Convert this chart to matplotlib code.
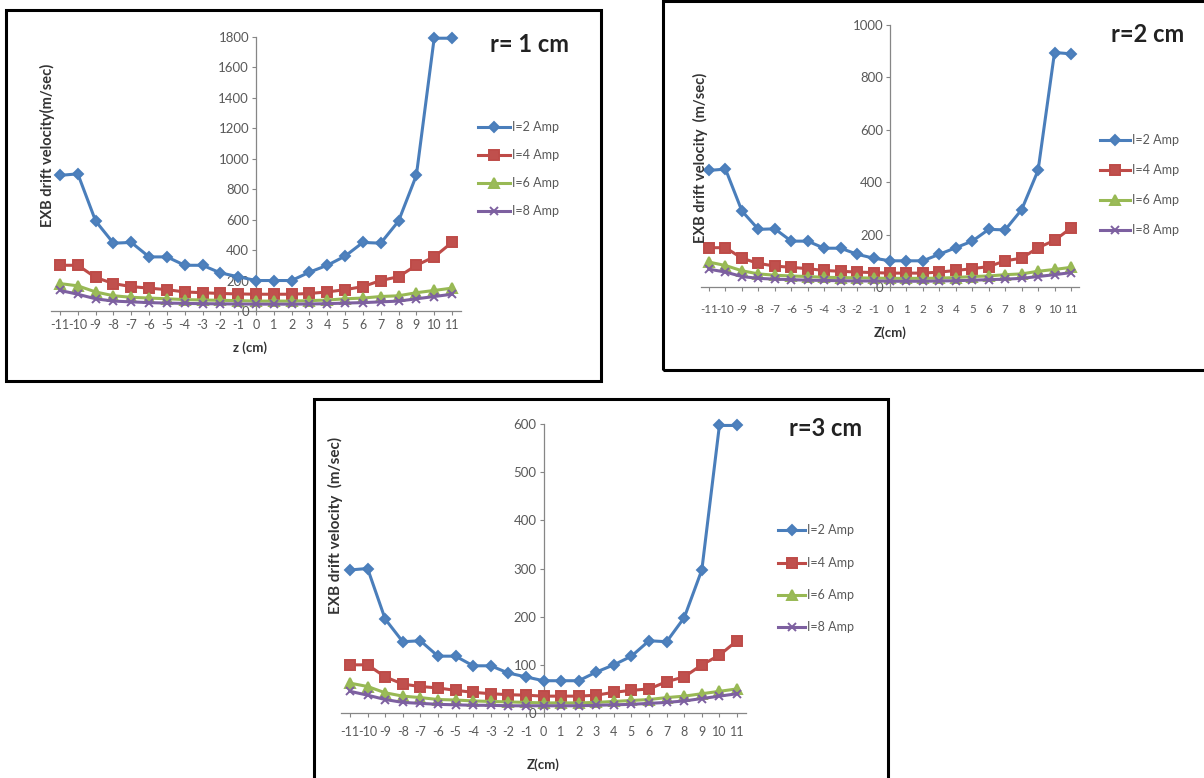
import matplotlib.pyplot as plt
from matplotlib.patches import Rectangle
from matplotlib.lines import Line2D

W, H = 1204, 778

plt.rcParams['font.family'] = ['Lato', 'DejaVu Sans']

z = list(range(-11, 12))
series_names = ["I=2 Amp", "I=4 Amp", "I=6 Amp", "I=8 Amp"]

# r = 1 cm
r1_i2 = [890, 900, 590, 445, 450, 355, 355, 300, 300, 250, 225, 200,
         200, 200, 255, 300, 360, 450, 445, 590, 890, 1790, 1790]
r1_i4 = [300, 300, 220, 180, 160, 150, 140, 125, 120, 115, 112, 110,
         110, 110, 115, 125, 140, 160, 200, 225, 300, 355, 450]
r1_i6 = [180, 165, 125, 100, 90, 85, 80, 75, 72, 70, 68, 65,
         65, 65, 68, 72, 80, 85, 95, 100, 120, 135, 150]
r1_i8 = [135, 110, 80, 65, 60, 55, 52, 50, 48, 47, 46, 45,
         45, 45, 46, 48, 52, 55, 60, 65, 80, 95, 110]

# r = 2 cm
r2_i2 = [445, 450, 290, 220, 222, 175, 175, 148, 148, 125, 110, 100,
         100, 100, 125, 150, 175, 220, 218, 295, 445, 895, 890]
r2_i4 = [150, 150, 110, 90, 80, 75, 70, 63, 60, 57, 55, 53,
         53, 53, 57, 63, 70, 78, 100, 110, 150, 178, 225]
r2_i6 = [95, 82, 62, 50, 45, 42, 40, 37, 36, 35, 34, 33,
         33, 33, 34, 36, 40, 42, 47, 50, 60, 67, 75]
r2_i8 = [68, 57, 40, 33, 30, 28, 26, 25, 24, 23, 23, 22,
         22, 22, 23, 24, 26, 28, 30, 33, 40, 47, 55]

# r = 3 cm
r3_i2 = [297, 300, 195, 148, 150, 118, 118, 98, 98, 83, 75, 67,
         67, 67, 85, 100, 118, 150, 148, 198, 297, 597, 597]
r3_i4 = [100, 100, 75, 60, 55, 52, 47, 43, 40, 38, 37, 35,
         35, 35, 37, 43, 47, 50, 65, 75, 100, 120, 150]
r3_i6 = [62, 55, 42, 35, 32, 28, 27, 25, 24, 23, 22, 21,
         21, 21, 22, 24, 26, 28, 32, 35, 40, 45, 50]
r3_i8 = [45, 37, 28, 22, 20, 18, 17, 16, 16, 15, 15, 15,
         15, 15, 16, 17, 18, 20, 22, 25, 30, 35, 40]

styles = [
    dict(color="#4A7EBB", marker="D", ms=5.5, mfc="#4F81BD", mec="#4A7EBB"),
    dict(color="#BE4B48", marker="s", ms=7.5, mfc="#C0504D", mec="#BE4B48"),
    dict(color="#98B954", marker="^", ms=6.5, mfc="#9BBB59", mec="#98B954"),
    dict(color="#7D60A0", marker="x", ms=6.0, mfc="#8064A2", mec="#7D60A0"),
]

TEXT_GREY = "#595959"
AXIS_GREY = "#868686"


def fx(x):
    return x / W


def fy(y):
    return 1 - y / H


def draw_panel(fig, box, plot_px, ymax, ystep, values, title, title_xy,
               xlabel, xlabel_xy, ylabel, ylabel_xy, ylabel_size,
               leg_x, leg_ys, xpad, xtick_size):
    # outer frame
    l, t, r, b = box
    fig.add_artist(Rectangle((fx(l), fy(b)), fx(r - l), (b - t) / H,
                             transform=fig.transFigure, fill=False,
                             edgecolor="black", linewidth=2.2, zorder=10))

    pl, pt, pr, pb = plot_px
    ax = fig.add_axes([fx(pl), fy(pb), fx(pr - pl), (pb - pt) / H])
    ax.patch.set_alpha(0)

    for vals, st in zip(values, styles):
        ax.plot(z, vals, color=st["color"], lw=2.2, marker=st["marker"],
                ms=st["ms"], mfc=st["mfc"], mec=st["mec"], mew=1.4,
                zorder=3, clip_on=False)

    ax.set_xlim(-11.5, 11.5)
    ax.set_ylim(0, ymax)
    ax.set_xticks(z)
    ax.set_xticklabels([str(v) for v in z])
    ax.set_yticks(range(0, ymax + 1, ystep))

    for side in ("top", "right"):
        ax.spines[side].set_visible(False)
    ax.spines["left"].set_position(("data", 0))
    ax.spines["bottom"].set_position(("data", 0))
    for side in ("left", "bottom"):
        ax.spines[side].set_color(AXIS_GREY)
        ax.spines[side].set_linewidth(0.9)
        ax.spines[side].set_zorder(1)

    ax.tick_params(axis="x", direction="out", length=3, width=0.8,
                   color=AXIS_GREY, labelsize=xtick_size,
                   labelcolor=TEXT_GREY, pad=xpad)
    ax.tick_params(axis="y", direction="out", length=3, width=0.8,
                   color=AXIS_GREY, labelsize=9.5, labelcolor=TEXT_GREY,
                   pad=2)

    fig.text(fx(title_xy[0]), fy(title_xy[1]), title, fontsize=17,
             fontweight="bold", ha="center", va="center", color="#222222")
    fig.text(fx(xlabel_xy[0]), fy(xlabel_xy[1]), xlabel, fontsize=9.5,
             fontweight="bold", ha="center", va="center", color="#333333")
    fig.text(fx(ylabel_xy[0]), fy(ylabel_xy[1]), ylabel,
             fontsize=ylabel_size, fontweight="bold", ha="center",
             va="center", rotation=90, color="#333333")

    # legend drawn by hand, one row per current
    x0, x1 = leg_x
    for name, st, ly in zip(series_names, styles, leg_ys):
        fig.add_artist(Line2D([fx(x0), fx((x0 + x1) / 2), fx(x1)],
                              [fy(ly)] * 3, transform=fig.transFigure,
                              color=st["color"], lw=2.2, marker=st["marker"],
                              ms=st["ms"], mfc=st["mfc"], mec=st["mec"],
                              mew=1.4, markevery=[1]))
        fig.text(fx(x1 + 2), fy(ly), name, fontsize=9, color=TEXT_GREY,
                 ha="left", va="center")
    return ax


fig = plt.figure(figsize=(W / 100, H / 100), dpi=100, facecolor="white")

draw_panel(fig, (6, 10, 601, 381), (51.1, 36.7, 460.9, 311), 1800, 200,
           [r1_i2, r1_i4, r1_i6, r1_i8], "r= 1 cm", (530, 45),
           "z (cm)", (250, 348), "EXB drift velocity(m/sec)", (47, 145),
           10.5, (478, 510), [127, 155, 183, 211], 3, 9)

draw_panel(fig, (663, 1, 1208, 370), (700.8, 25, 1079.2, 287), 1000, 200,
           [r2_i2, r2_i4, r2_i6, r2_i8], "r=2 cm", (1148, 34),
           "Z(cm)", (890, 333), "EXB drift velocity  (m/sec)", (700, 158),
           10.5, (1100, 1130), [140, 170, 200, 230], 9, 8.3)

draw_panel(fig, (314, 399, 888, 782), (341.2, 424, 745.8, 713), 600, 100,
           [r3_i2, r3_i4, r3_i6, r3_i8], "r=3 cm", (826, 428),
           "Z(cm)", (543, 765), "EXB drift velocity  (m/sec)", (335, 525),
           11, (778, 805), [530, 563, 595, 627], 6, 9)

plt.savefig("out.png", dpi=100, facecolor="white")
